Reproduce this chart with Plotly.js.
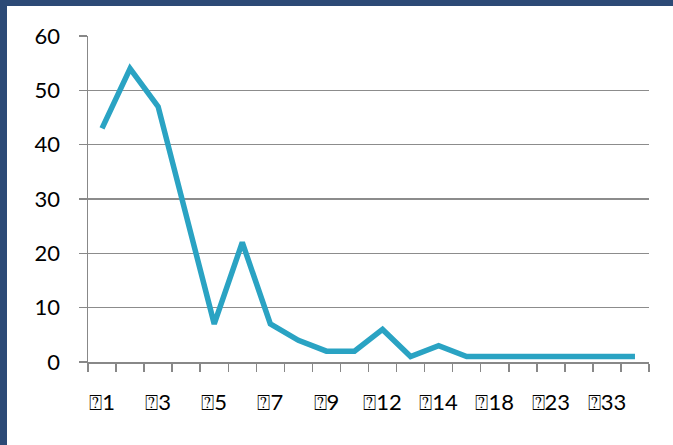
<!DOCTYPE html>
<html>
<head>
<meta charset="utf-8">
<script src="https://cdn.plot.ly/plotly-3.0.1.min.js"></script>
<style>
  html, body { margin: 0; padding: 0; background: #ffffff; }
  #wrap { position: relative; width: 673px; height: 445px; overflow: hidden; }
  #chart { position: absolute; left: 0; top: 0; width: 673px; height: 445px; }
  .bar-top { position: absolute; left: 0; top: 0; width: 673px; height: 6px; background: #2c4a76; z-index: 5; }
  .bar-left { position: absolute; left: 0; top: 0; width: 7px; height: 445px; background: #2c4a76; z-index: 5; }
</style>
</head>
<body>
<div id="wrap">
  <div id="chart"></div>
  <div class="bar-top"></div>
  <div class="bar-left"></div>
</div>
<script>
const categories = ["⍰1","⍰2","⍰3","⍰4","⍰5","⍰6","⍰7","⍰8","⍰9","⍰10",
                    "⍰12","⍰13","⍰14","⍰16","⍰18","⍰20","⍰23","⍰28","⍰33","⍰40"];
const values = [43, 54, 47, 27, 7, 22, 7, 4, 2, 2, 6, 1, 3, 1, 1, 1, 1, 1, 1, 1];
const shownLabels = ["⍰1","⍰3","⍰5","⍰7","⍰9","⍰12","⍰14","⍰18","⍰23","⍰33"];
const yTicks = [0, 10, 20, 30, 40, 50, 60];

const tickText = categories.map(c => shownLabels.includes(c) ? c : "");

const trace = {
  x: categories,
  y: values,
  type: "scatter",
  mode: "lines",
  line: { color: "#2aa3c3", width: 5.5, shape: "linear" },
  hoverinfo: "x+y"
};

const layout = {
  width: 673,
  height: 445,
  margin: { l: 88, r: 24, t: 36, b: 83 },
  paper_bgcolor: "#ffffff",
  plot_bgcolor: "#ffffff",
  showlegend: false,
  font: { family: "Lato, 'Open Sans', sans-serif", size: 22, color: "#000000" },
  xaxis: {
    type: "category",
    range: [-0.5, categories.length - 0.5],
    tickmode: "array",
    tickvals: categories,
    ticktext: tickText,
    tickson: "boundaries",
    tickangle: 0,
    ticks: "outside",
    ticklen: 8,
    tickwidth: 1.5,
    tickcolor: "#888888",
    showline: true,
    linecolor: "#888888",
    linewidth: 1.5,
    showgrid: false,
    zeroline: false,
    ticklabelstandoff: 20,
    tickfont: { family: "Lato, 'DejaVu Sans', sans-serif", size: 22, color: "#000000" },
    fixedrange: true
  },
  yaxis: {
    range: [0, 60],
    tickmode: "array",
    tickvals: yTicks,
    ticktext: yTicks.map(String),
    ticks: "outside",
    ticklen: 8,
    tickwidth: 1.5,
    tickcolor: "#888888",
    showline: true,
    linecolor: "#888888",
    linewidth: 1.5,
    showgrid: true,
    gridcolor: "#8c8c8c",
    gridwidth: 1.5,
    zeroline: false,
    ticklabelstandoff: 14,
    tickfont: { family: "Lato, sans-serif", size: 22, color: "#000000" },
    fixedrange: true
  }
};

Plotly.newPlot("chart", [trace], layout, { displayModeBar: false, staticPlot: true });
</script>
</body>
</html>
